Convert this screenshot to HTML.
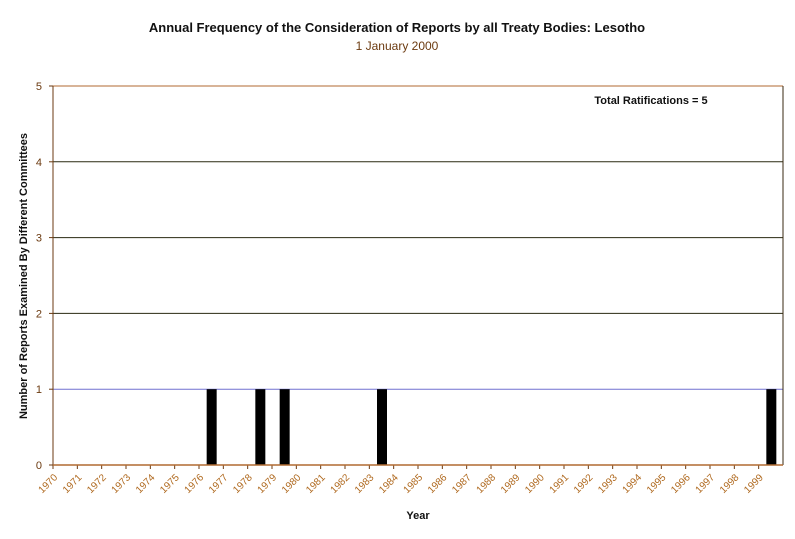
<!DOCTYPE html>
<html><head><meta charset="utf-8"><style>
body{margin:0;background:#fff;}
svg{display:block;font-family:"Liberation Sans",Arial,sans-serif;}
</style></head><body>
<svg id="chart" width="795" height="539">
<text x="397" y="32" text-anchor="middle" font-size="13" font-weight="bold" fill="#111">Annual Frequency of the Consideration of Reports by all Treaty Bodies: Lesotho</text>
<text x="397" y="50" text-anchor="middle" font-size="12" fill="#6b3a10">1 January 2000</text>
<text transform="translate(27,276) rotate(-90)" text-anchor="middle" font-size="11" font-weight="bold" fill="#111">Number of Reports Examined By Different Committees</text>
<text x="418" y="519" text-anchor="middle" font-size="11" font-weight="bold" fill="#111">Year</text>
<text x="651" y="104" text-anchor="middle" font-size="11" font-weight="bold" fill="#111">Total Ratifications = 5</text>
<g id="grid"></g><g id="bars"></g><g id="axes"></g>
</svg>
<script>
const categories=[1970,1971,1972,1973,1974,1975,1976,1977,1978,1979,1980,1981,1982,1983,1984,1985,1986,1987,1988,1989,1990,1991,1992,1993,1994,1995,1996,1997,1998,1999];
const values=[0,0,0,0,0,0,1,0,1,1,0,0,0,1,0,0,0,0,0,0,0,0,0,0,0,0,0,0,0,1];
const yTicks=[0,1,2,3,4,5];
const NS="http://www.w3.org/2000/svg";
const L=53,R=783,T=86,B=465,yMax=5;
const band=(R-L)/categories.length;
const xs=i=>L+i*band;
const ys=v=>B-(v/yMax)*(B-T);
function mk(tag,attrs,parent){const e=document.createElementNS(NS,tag);for(const k in attrs)e.setAttribute(k,attrs[k]);parent.appendChild(e);return e;}
const grid=document.getElementById('grid'),bars=document.getElementById('bars'),axes=document.getElementById('axes');
yTicks.forEach(t=>{
  if(t>0&&t<yMax){const g=mk('line',{x1:L,x2:R,y1:ys(t),y2:ys(t),stroke:t===1?'#7070d0':'#2a2a10','stroke-width':1},grid);
  
  }
  const tx=mk('text',{x:L-11,y:ys(t)+4,'text-anchor':'end','font-size':11,fill:'#6b3a10'},axes);
  tx.textContent=t;
  
  
  const tk=mk('line',{x1:L-4,x2:L,y1:ys(t),y2:ys(t),stroke:'#6b3a10'},axes);
  
  
});
categories.forEach((c,i)=>{
  if(values[i]>0){const bw=10;const b=mk('rect',{x:xs(i)+band/2-bw/2+0.5,y:ys(values[i]),width:bw,height:B-ys(values[i]),fill:'#000'},bars);
  
  }
  const tk=mk('line',{x1:xs(i),x2:xs(i),y1:B,y2:B+4,stroke:'#6b3a10'},axes);
  
  
  const x0=xs(i)+5,y0=478;
  const tx=mk('text',{x:x0,y:y0,'text-anchor':'end','font-size':10,fill:'#b06a20',transform:'rotate(-45 '+x0+' '+y0+')'},axes);
  tx.textContent=c;
  
  
});
const topBorder=mk('line',{x1:L,x2:R,y1:T,y2:T,stroke:'#b06a30','stroke-width':1},axes);


const rt=mk('line',{x1:R,x2:R,y1:T,y2:B,stroke:'#3a2a10','stroke-width':1},axes);


const ya=mk('line',{x1:L,x2:L,y1:T,y2:B,stroke:'#6b3a10','stroke-width':1},axes);


const xa=mk('line',{x1:L,x2:R,y1:B,y2:B,stroke:'#b06a30','stroke-width':1.5},axes);


</script>
</body></html>
